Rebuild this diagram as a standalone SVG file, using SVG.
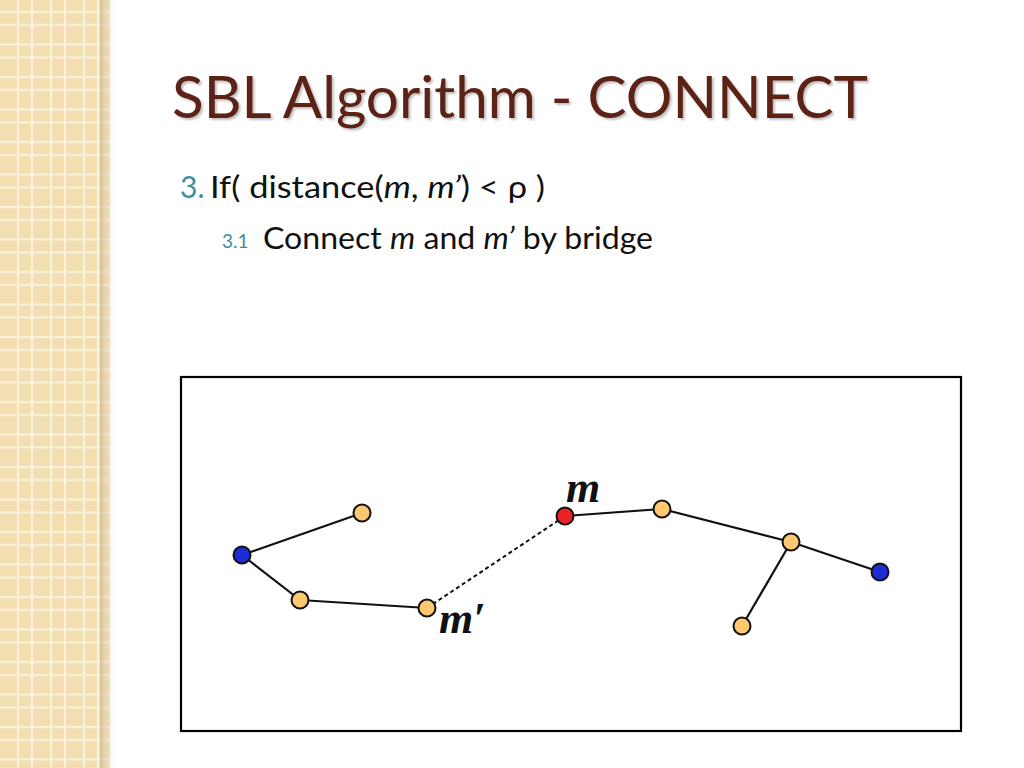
<svg xmlns="http://www.w3.org/2000/svg" width="1024" height="768" viewBox="0 0 1024 768">
<defs>
<pattern id="grid" x="0" y="0" width="33" height="32.5" patternUnits="userSpaceOnUse">
<rect width="33" height="32.5" fill="#f2deb0"/>
<rect x="17" y="0" width="2" height="32.5" fill="#fbf3dc"/>
<rect x="31" y="0" width="2" height="32.5" fill="#fbf3dc"/>
<rect x="0" y="11" width="33" height="2" fill="#fbf3dc"/>
<rect x="0" y="24" width="33" height="2" fill="#fbf3dc"/>
</pattern>
<linearGradient id="shade" x1="0" y1="0" x2="1" y2="0">
<stop offset="0" stop-color="#c9b48a" stop-opacity="0.7"/>
<stop offset="1" stop-color="#ffffff" stop-opacity="0"/>
</linearGradient>
<filter id="tshadow" x="-5%" y="-20%" width="110%" height="140%">
<feGaussianBlur in="SourceAlpha" stdDeviation="1.2"/>
<feOffset dx="2" dy="2" result="b"/>
<feFlood flood-color="#000" flood-opacity="0.25"/>
<feComposite in2="b" operator="in"/>
<feMerge><feMergeNode/><feMergeNode in="SourceGraphic"/></feMerge>
</filter>
</defs>
<style>
.title{font-family:Lato,"Open Sans","Liberation Sans",sans-serif;font-size:58px;fill:#5b2318}
.body{font-family:Lato,"Open Sans","Liberation Sans",sans-serif;font-size:30px;fill:#111}
.num{fill:#3d8ea0}
.lbl{font-family:"Liberation Serif",serif;font-style:italic;font-weight:bold;font-size:44px;fill:#111}
.edge{stroke:#111;stroke-width:2.2;fill:none}
.bridge{stroke:#111;stroke-width:2;fill:none;stroke-dasharray:4 3}
.n{stroke:#111;stroke-width:2}
.y{fill:#fcc870}
.b{fill:#1c2bd6}
.r{fill:#ec2229}
</style>
<rect width="1024" height="768" fill="#ffffff"/>
<rect x="0" y="0" width="110" height="768" fill="url(#grid)"/>
<rect x="100" y="0" width="18" height="768" fill="url(#shade)"/>
<text class="title" x="172" y="118" textLength="696" lengthAdjust="spacingAndGlyphs" filter="url(#tshadow)">SBL Algorithm - CONNECT</text>
<text class="body" x="180" y="198"><tspan class="num">3.</tspan></text>
<text class="body" x="210" y="198" textLength="335" lengthAdjust="spacingAndGlyphs">If( distance(<tspan font-style="italic">m</tspan>, <tspan font-style="italic">m’</tspan>) &lt; ρ )</text>
<text class="body" x="222" y="248"><tspan class="num" font-size="19">3.1</tspan></text>
<text class="body" x="263" y="249" textLength="390" lengthAdjust="spacingAndGlyphs">Connect <tspan font-style="italic">m</tspan> and <tspan font-style="italic">m’</tspan> by bridge</text>
<rect x="181" y="377" width="780" height="354" fill="#fff" stroke="#000" stroke-width="2.2"/>
<g id="connectors">
<line class="edge" x1="242" y1="555" x2="362" y2="513"/>
<line class="edge" x1="242" y1="555" x2="300" y2="600"/>
<line class="edge" x1="300" y1="600" x2="427" y2="608"/>
<line class="bridge" x1="427" y1="608" x2="565" y2="516"/>
<line class="edge" x1="565" y1="516" x2="662" y2="509"/>
<line class="edge" x1="662" y1="509" x2="791" y2="542"/>
<line class="edge" x1="791" y1="542" x2="880" y2="572"/>
<line class="edge" x1="791" y1="542" x2="742" y2="626"/>
</g>
<g id="n1"><circle class="n b" cx="242" cy="555" r="8.5"/></g>
<g id="n2"><circle class="n y" cx="362" cy="513" r="8.5"/></g>
<g id="n3"><circle class="n y" cx="300" cy="600" r="8.5"/></g>
<g id="n4"><circle class="n y" cx="427" cy="608" r="8.5"/><text class="lbl" x="439" y="633">m′</text></g>
<g id="n5"><circle class="n r" cx="565" cy="516" r="8.5"/><text class="lbl" x="566" y="502">m</text></g>
<g id="n6"><circle class="n y" cx="662" cy="509" r="8.5"/></g>
<g id="n7"><circle class="n y" cx="791" cy="542" r="8.5"/></g>
<g id="n8"><circle class="n b" cx="880" cy="572" r="8.5"/></g>
<g id="n9"><circle class="n y" cx="742" cy="626" r="8.5"/></g>
</svg>
